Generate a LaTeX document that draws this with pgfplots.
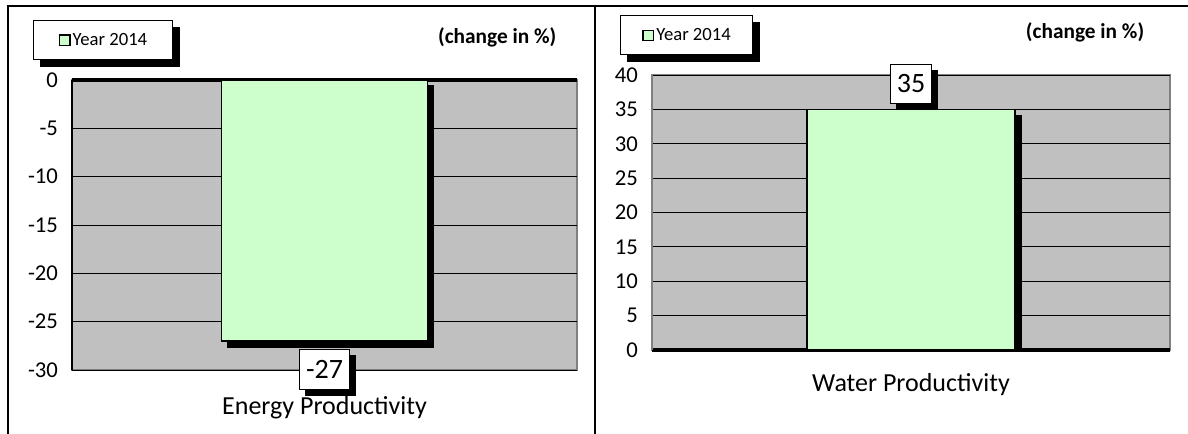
\documentclass[border=0pt]{standalone}
\usepackage{pgfplots}
\pgfplotsset{compat=1.18}
\usepackage{fontspec}
\setmainfont{Carlito}
\usetikzlibrary{shadows}

\definecolor{plotgray}{HTML}{C0C0C0}
\definecolor{bordergray}{HTML}{808080}
\definecolor{barfill}{HTML}{CCFFCC}

\newcommand{\legsquare}{{\setlength{\fboxsep}{0pt}\setlength{\fboxrule}{1.2pt}%
    \raisebox{0.3pt}{\fcolorbox{black}{barfill}{\rule{0pt}{6.5pt}\rule{6.5pt}{0pt}}}}\hspace{1.5pt}}

\tikzset{
    blackshadow/.style={drop shadow={shadow xshift=4.5pt, shadow yshift=-4.5pt, fill=black, opacity=1}},
    barstyle/.style={fill=barfill, draw=black, line width=0.8pt, blackshadow},
    labelstyle/.style={draw=black, line width=0.6pt, fill=white, blackshadow,
        font=\fontsize{21}{24}\selectfont, inner xsep=4.8pt, inner ysep=8pt},
}

\pgfplotsset{
    panel/.style={
        scale only axis,
        anchor=south west,
        xmin=0, xmax=1,
        xtick=\empty,
        enlargelimits=false,
        ytick distance=5,
        major tick length=0pt,
        ymajorgrids,
        major grid style={black, line width=0.6pt},
        axis background/.style={fill=plotgray, draw=bordergray, line width=1pt},
        /pgf/number format/assume math mode=true,
        yticklabel style={font=\fontsize{17}{20}\selectfont, xshift=-7pt},
        xlabel style={font=\fontsize{19.5}{22}\selectfont},
        title={(change in \%)},
        every axis title shift=0pt,
        title style={font=\bfseries\fontsize{16}{19}\selectfont, anchor=center},
        ybar,
        bar width=154pt,
        nodes near coords,
        legend image code/.code={},
        legend style={draw=black, line width=0.6pt, fill=white,
            drop shadow={shadow xshift=5.25pt, shadow yshift=-5.25pt, fill=black, opacity=1},
            font=\fontsize{14}{16}\selectfont, anchor=north west,
            inner ysep=8.5pt, nodes={inner sep=1pt},
            /tikz/every even column/.append style={column sep=0pt}},
    },
}

\begin{document}
\begin{tikzpicture}
\useasboundingbox (0pt,0pt) rectangle (891pt,-325.5pt);
\draw[line width=1.6pt] (6pt,-325.5pt) -- (6pt,-4.5pt) -- (891pt,-4.5pt);
\draw[line width=1.6pt] (446.25pt,-4.5pt) -- (446.25pt,-325.5pt);

% Energy productivity
\begin{axis}[panel,
    at={(54pt,-277.5pt)},
    width=378.75pt, height=217.5pt,
    ymin=-30, ymax=0,
    axis x line*=top,
    axis y line*=left,
    x axis line style={line width=2.4pt, black},
    y axis line style={line width=1.5pt, black},
    xlabel={Energy Productivity},
    xlabel style={at={(axis description cs:0.5,-0.13)}, anchor=center},
    title style={at={(axis description cs:0.842,1.148)}},
    nodes near coords style={labelstyle, anchor=north, yshift=-6pt},
    legend style={at={(axis description cs:-0.0772,1.207)}, inner xsep=18pt},
]
\addplot[barstyle, bar shift=0pt] coordinates {(0.5,-27)};
\addlegendentry{\legsquare Year 2014}
\end{axis}

% Water productivity
\begin{axis}[panel,
    at={(489pt,-262.5pt)},
    width=388.5pt, height=206.25pt,
    ymin=0, ymax=40,
    axis x line*=bottom,
    axis y line*=left,
    x axis line style={line width=2.4pt, black},
    y axis line style={line width=1pt, bordergray},
    bar width=156pt,
    xlabel={Water Productivity},
    xlabel style={at={(axis description cs:0.5,-0.127)}, anchor=center},
    title style={at={(axis description cs:0.836,1.156)}},
    nodes near coords style={labelstyle, anchor=south, yshift=4pt},
    legend style={at={(axis description cs:-0.0618,1.218)}, inner xsep=15.5pt},
]
\addplot[barstyle, bar shift=0pt] coordinates {(0.5,35)};
\addlegendentry{\legsquare Year 2014}
\end{axis}
\end{tikzpicture}
\end{document}
